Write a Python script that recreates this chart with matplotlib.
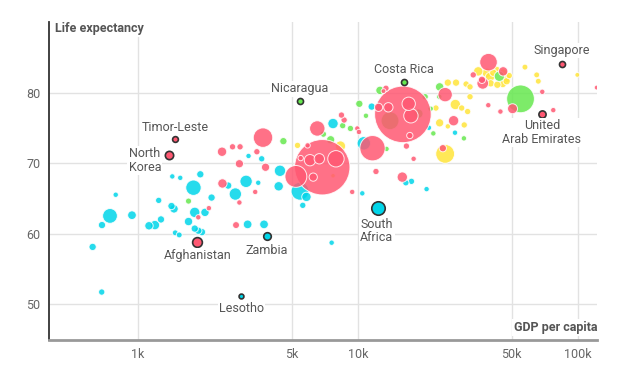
import matplotlib
matplotlib.use("Agg")
import matplotlib.pyplot as plt
import numpy as np

plt.rcParams['font.family'] = ['Roboto', 'DejaVu Sans']

# GDP per capita ($), life expectancy (years), population (millions) by region
africa_gdp = [792, 746, 939, 686, 622, 684, 1242, 1432, 1556, 1787, 1458, 1420, 1811, 2016,
              1272, 1194, 1122, 1697, 1811, 1880, 1954, 1477, 1540, 2160, 1920, 2570, 2770,
              3100, 3520, 3150, 3740, 4360, 4420, 3180, 3650, 5610, 5830, 5450, 7700, 11540,
              10630, 10460, 7590, 16500, 17500, 20500, 21000, 27600]
africa_life = [65.5, 62.5, 62.6, 61.2, 58.1, 51.7, 64.7, 68.1, 67.9, 66.5, 63.5, 63.9, 63.0, 63.0,
               62.0, 61.2, 61.1, 61.7, 60.7, 60.4, 60.2, 60.1, 59.8, 65.1, 68.4, 66.8, 65.6,
               67.4, 67.2, 61.3, 61.3, 66.7, 68.9, 71.0, 70.6, 64.0, 65.2, 66.0, 75.6, 78.0,
               72.8, 65.7, 58.7, 67.2, 67.4, 66.3, 75.0, 74.3]
africa_pop = [8, 86, 26, 17, 17, 12, 12, 8, 8, 94, 24, 17, 39, 24,
              17, 31, 24, 24, 17, 17, 17, 10, 10, 17, 17, 17, 58,
              58, 8, 26, 26, 31, 48, 8, 12, 12, 31, 130, 39, 17,
              70, 8, 8, 12, 12, 8, 8, 8]

americas_gdp = [1697, 4580, 10140, 10870, 8520, 6960, 7510, 9240, 13480, 12590, 20200, 21400,
                23500, 23400, 22000, 30300, 43900, 54800, 13980, 18800]
americas_life = [64.6, 73.1, 78.4, 76.7, 75.3, 74.1, 73.3, 74.9, 72.0, 80.3, 79.4, 77.7,
                 80.8, 79.4, 74.2, 73.5, 82.3, 79.1, 76.0, 77.0]
americas_pop = [11, 17, 17, 8, 12, 12, 23, 12, 8, 24, 12, 8,
                24, 8, 8, 8, 38, 330, 130, 31]

asia_gdp = [1880, 2100, 2420, 2890, 3410, 2790, 3700, 2410, 2690, 2910, 3470, 2890, 3800,
            5900, 5220, 6880, 6050, 6670, 7940, 5490, 6260, 6530, 8410, 8650, 9930, 10100,
            11640, 12070, 9410, 16000, 12400, 13740, 17000, 17400, 13400, 13060, 24900, 27200,
            39100, 44400, 50400, 39200, 33400, 36600, 36900, 45700, 68800, 77200, 121600,
            17200, 16600, 17900, 24300, 15900]
asia_life = [62.3, 63.6, 67.1, 64.4, 65.9, 61.2, 73.6, 71.6, 72.3, 72.3, 71.6, 69.9, 69.4,
             72.5, 68.1, 69.4, 70.4, 70.6, 70.6, 70.7, 68.0, 74.9, 76.8, 76.1, 74.9, 74.4,
             72.1, 68.8, 65.9, 76.9, 77.9, 77.9, 78.4, 76.7, 80.6, 80.2, 79.7, 76.0,
             78.2, 77.3, 77.7, 84.3, 82.5, 81.8, 81.3, 83.0, 80.1, 77.5, 80.7,
             73.9, 72.4, 70.6, 72.1, 68.0]
asia_pop = [8, 8, 31, 8, 8, 15, 156, 31, 12, 12, 12, 23, 23,
            8, 200, 1380, 48, 39, 108, 8, 23, 94, 12, 12, 8, 8,
            273, 12, 8, 1440, 23, 31, 69, 81, 12, 6, 81, 39,
            8, 8, 36, 125, 12, 17, 51, 31, 8, 8, 6,
            12, 12, 8, 17, 39]

europe_gdp = [5310, 8320, 24900, 25600, 27900, 31000, 32300, 32300, 27700, 29600, 31500, 22600,
              23500, 25600, 30400, 35200, 38500, 39800, 41200, 42700, 45700, 47400, 48700,
              40100, 43000, 45500, 47400, 57400, 64900, 66000, 99300, 7700]
europe_life = [72.5, 72.4, 71.3, 81.4, 81.4, 81.2, 80.8, 79.4, 78.3, 77.8, 77.3, 77.8,
               75.7, 75.2, 75.4, 83.0, 82.8, 82.2, 82.8, 83.2, 82.8, 82.0, 82.4,
               81.3, 81.1, 81.2, 81.6, 83.6, 82.5, 81.6, 82.5, 68.2]
europe_pop = [12, 39, 145, 17, 17, 12, 12, 12, 39, 12, 12, 12,
              23, 8, 12, 31, 31, 31, 17, 17, 23, 23, 12,
              17, 17, 17, 17, 10, 10, 10, 6, 5]

# highlighted countries
label_names = ['Nicaragua', 'Timor-Leste', 'North\nKorea', 'Costa Rica', 'Singapore',
               'United\nArab Emirates', 'Afghanistan', 'Zambia', 'Lesotho', 'South\nAfrica']
label_gdp = [5450, 1480, 1380, 16200, 84300, 68600, 1860, 3850, 2950, 12300]
label_life = [78.8, 73.4, 71.2, 81.5, 84.1, 77.0, 58.8, 59.6, 51.2, 63.6]
label_pop = [9, 8, 20, 9, 9, 14, 29, 16, 5, 60]
label_region = ['americas', 'asia', 'asia', 'americas', 'asia', 'asia', 'asia', 'africa',
                'africa', 'africa']
label_offsets = [(0, 12), (0, 12), (-24, -6), (0, 12), (0, 13), (0, -19), (0, -14), (0, -14),
                 (0, -13), (-1, -23)]

colors = {'africa': '#00D5E9', 'americas': '#66E84F', 'asia': '#FF5872', 'europe': '#FFE43A'}


def marker_size(pop):
    # area ~ population, plus a little for the white rim
    return (np.sqrt(np.asarray(pop) * 1.1) + 0.9) ** 2


fig = plt.figure(figsize=(6.36, 3.75), dpi=100)
ax = fig.add_axes([49 / 636, 35 / 375, 548 / 636, 318 / 375])

regions = [('europe', europe_gdp, europe_life, europe_pop),
           ('africa', africa_gdp, africa_life, africa_pop),
           ('americas', americas_gdp, americas_life, americas_pop),
           ('asia', asia_gdp, asia_life, asia_pop)]

for name, gdp, life, pop in regions:
    order = np.argsort(pop)[::-1]
    gdp = np.array(gdp)[order]
    life = np.array(life)[order]
    pop = np.array(pop)[order]
    ax.scatter(gdp, life, s=marker_size(pop), color=colors[name], alpha=0.85,
               edgecolors='white', linewidths=0.7, zorder=2)

for i, name in enumerate(label_names):
    ax.scatter(label_gdp[i], label_life[i], s=marker_size(label_pop[i]) * 1.15,
               color=colors[label_region[i]], edgecolors='#333333', linewidths=1.2, zorder=4)
    ax.annotate(name, (label_gdp[i], label_life[i]), xytext=label_offsets[i],
                textcoords='offset pixels', ha='center', va='center', fontsize=9,
                color='#555555', linespacing=1.05, zorder=5,
                bbox=dict(boxstyle='square,pad=0.1', fc='white', ec='none'))

ax.set_xscale('log')
ax.set_xlim(394, 122000)
ax.set_ylim(44.9, 90.0)
ax.set_xticks([1000, 5000, 10000, 50000, 100000])
ax.set_xticklabels(['1k', '5k', '10k', '50k', '100k'])
ax.xaxis.set_minor_locator(matplotlib.ticker.NullLocator())
ax.set_yticks([50, 60, 70, 80])
ax.tick_params(length=0, labelsize=9, labelcolor='#666666', pad=6)

ax.grid(True, color='#e2e2e2', linewidth=1)
ax.set_axisbelow(True)
for s in ['top', 'right']:
    ax.spines[s].set_visible(False)
ax.spines['left'].set_color('#333333')
ax.spines['left'].set_linewidth(1.3)
ax.spines['bottom'].set_color('#999999')
ax.spines['bottom'].set_linewidth(2)

ax.text(0.011, 0.978, 'Life expectancy', transform=ax.transAxes, ha='left', va='center',
        fontsize=9, fontweight='bold', color='#555555', zorder=6,
        bbox=dict(boxstyle='square,pad=0.15', fc='white', ec='none'))
ax.text(1.0, 0.039, 'GDP per capita', transform=ax.transAxes, ha='right', va='center',
        fontsize=9, fontweight='bold', color='#555555', zorder=6,
        bbox=dict(boxstyle='square,pad=0.15', fc='white', ec='none'))

plt.savefig('out.png', dpi=100)
